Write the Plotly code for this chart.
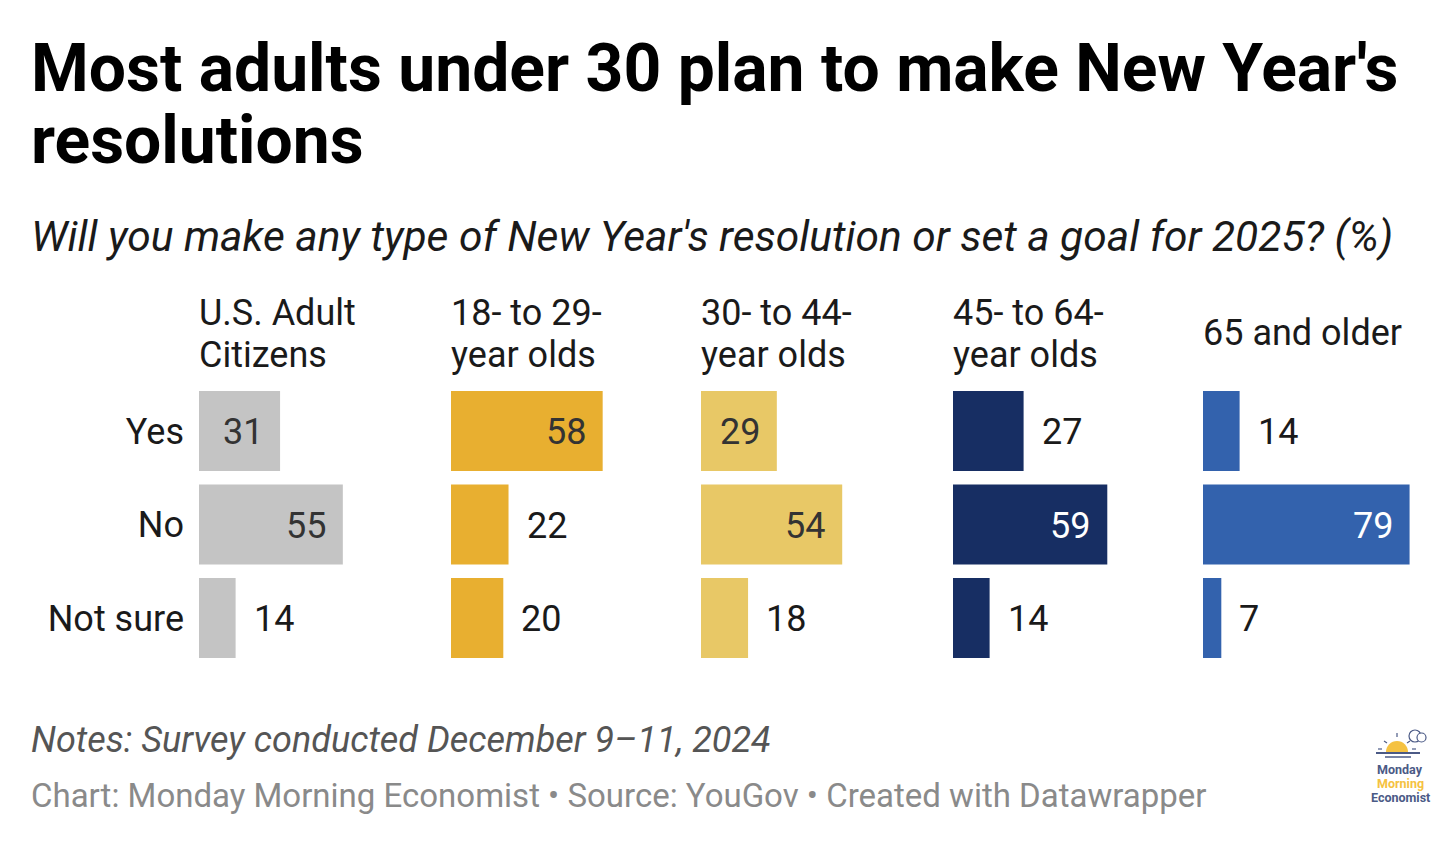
import plotly.graph_objects as go

W, H = 1456, 845
OFF = 8  # page body margin offset

# ---------------- data ----------------
categories = ["Yes", "No", "Not sure"]
groups = ["U.S. Adult<br>Citizens", "18- to 29-<br>year olds", "30- to 44-<br>year olds",
          "45- to 64-<br>year olds", "65 and older"]
us_adults = [31, 55, 14]
age_18_29 = [58, 22, 20]
age_30_44 = [29, 54, 18]
age_45_64 = [27, 59, 14]
age_65_plus = [14, 79, 7]
series = [us_adults, age_18_29, age_30_44, age_45_64, age_65_plus]

title_lines = ["Most adults under 30 plan to make New Year's", "resolutions"]
subtitle = "Will you make any type of New Year's resolution or set a goal for 2025? (%)"
notes = "Notes: Survey conducted December 9–11, 2024"
credit = "Chart: Monday Morning Economist • Source: YouGov • Created with Datawrapper"

# ---------------- style ----------------
colors = ["#c4c4c4", "#e8af30", "#e8c866", "#172e63", "#3362ad"]
inside_text_colors = ["#333333", "#333333", "#333333", "#ffffff", "#ffffff"]
panel_left_px = [199, 451, 701, 953, 1203]
panel_w_px = 232
px_per_unit = 2.615
FONT = "Roboto"

def px(x):
    return (x - OFF) / W

def py(y):
    return 1 - (y - OFF) / H

fig = go.Figure()

row_pitch = 93.5
y_top = 431 - row_pitch / 2
y_bot = 618 + row_pitch / 2

annotations = []
for i, vals in enumerate(series):
    ax = "x" if i == 0 else f"x{i+1}"
    fig.add_trace(go.Bar(
        x=vals, y=categories, orientation="h",
        marker=dict(color=colors[i], line=dict(width=0)),
        xaxis=ax, yaxis="y", hoverinfo="skip", showlegend=False,
    ))
    key = "xaxis" if i == 0 else f"xaxis{i+1}"
    left = panel_left_px[i]
    fig.update_layout(**{key: dict(
        domain=[px(left), px(left + panel_w_px)],
        range=[0, panel_w_px / px_per_unit],
        visible=False, anchor="y", fixedrange=True,
    )})
    for v, c in zip(vals, categories):
        inside = v >= 28
        annotations.append(dict(
            xref=ax, yref="y", x=v, y=c, text=str(v), showarrow=False,
            xanchor="right" if inside else "left",
            xshift=-15 if inside else 16, yshift=-1,
            font=dict(family=FONT, size=36,
                      color=inside_text_colors[i] if inside else "#1a1a1a"),
        ))
    # group header
    lines = groups[i].split("<br>")
    if len(lines) == 2:
        centers = [313, 355]
    else:
        centers = [333]
    for ln, yc in zip(lines, centers):
        annotations.append(dict(
            xref="paper", yref="paper", x=px(left - 2), y=py(yc), text=ln,
            showarrow=False, xanchor="left", yanchor="middle",
            font=dict(family=FONT, size=36, color="#1a1a1a"),
        ))

fig.update_layout(yaxis=dict(
    domain=[py(y_bot), py(y_top)],
    categoryorder="array", categoryarray=categories, autorange="reversed",
    showgrid=False, zeroline=False, showline=False, ticks="",
    ticklabelstandoff=14, anchor="x", fixedrange=True,
    tickfont=dict(family=FONT, size=36, color="#1a1a1a"),
))

# title / subtitle / notes / credit
for ln, yc in zip(title_lines, [68, 140]):
    annotations.append(dict(
        xref="paper", yref="paper", x=px(29), y=py(yc), text=ln, showarrow=False,
        xanchor="left", yanchor="middle",
        font=dict(family=FONT, size=66, color="#000000", weight=700),
    ))
annotations.append(dict(
    xref="paper", yref="paper", x=px(29), y=py(236), text=f"<i>{subtitle}</i>",
    showarrow=False, xanchor="left", yanchor="middle",
    font=dict(family=FONT, size=42.5, color="#1a1a1a"),
))
annotations.append(dict(
    xref="paper", yref="paper", x=px(29), y=py(740), text=f"<i>{notes}</i>",
    showarrow=False, xanchor="left", yanchor="middle",
    font=dict(family=FONT, size=36, color="#555555"),
))
annotations.append(dict(
    xref="paper", yref="paper", x=px(29), y=py(795), text=credit,
    showarrow=False, xanchor="left", yanchor="middle",
    font=dict(family=FONT, size=33, color="#8a8a8a"),
))

# logo (Monday Morning Economist)
logo_blue = "#4b5a86"
logo_yellow = "#f5c242"
for txt, yc, col in [("Monday", 769, logo_blue), ("Morning", 783, logo_yellow), ("Economist", 797, logo_blue)]:
    annotations.append(dict(
        xref="paper", yref="paper", x=px(1400), y=py(yc), text=f"<b>{txt}</b>",
        showarrow=False, xanchor="center", yanchor="middle",
        font=dict(family=FONT, size=12.5, color=col),
    ))

shapes = []
cx, cy, r = 1397, 752, 11
shapes.append(dict(type="circle", xref="paper", yref="paper",
                   x0=px(cx - r), x1=px(cx + r), y0=py(cy + r), y1=py(cy - r),
                   fillcolor=logo_yellow, line=dict(width=0)))
shapes.append(dict(type="rect", xref="paper", yref="paper",
                   x0=px(cx - r - 1), x1=px(cx + r + 1), y0=py(cy + r + 2), y1=py(cy),
                   fillcolor="white", line=dict(width=0)))
shapes.append(dict(type="line", xref="paper", yref="paper",
                   x0=px(1376), x1=px(1420), y0=py(753), y1=py(753),
                   line=dict(color=logo_blue, width=2)))
shapes.append(dict(type="line", xref="paper", yref="paper",
                   x0=px(1385), x1=px(1411), y0=py(757), y1=py(757),
                   line=dict(color=logo_blue, width=1.5)))
for x0, y0, x1, y1 in [(1384, 741, 1387, 743), (1397, 733, 1397, 737), (1410, 741, 1407, 743),
                       (1378, 749, 1382, 749), (1412, 749, 1416, 749)]:
    shapes.append(dict(type="line", xref="paper", yref="paper",
                       x0=px(x0), x1=px(x1), y0=py(y0), y1=py(y1),
                       line=dict(color=logo_blue, width=1.2)))
shapes.append(dict(type="circle", xref="paper", yref="paper",
                   x0=px(1409), x1=px(1421), y0=py(742), y1=py(730),
                   fillcolor="white", line=dict(color=logo_blue, width=1.2)))
shapes.append(dict(type="circle", xref="paper", yref="paper",
                   x0=px(1417), x1=px(1426), y0=py(742), y1=py(733),
                   fillcolor="white", line=dict(color=logo_blue, width=1.2)))

fig.update_layout(
    width=W, height=H,
    margin=dict(l=0, r=0, t=0, b=0),
    paper_bgcolor="white", plot_bgcolor="white",
    bargap=1 - 80 / row_pitch,
    annotations=annotations, shapes=shapes,
    font=dict(family=FONT),
)

fig.write_html("out.html")
